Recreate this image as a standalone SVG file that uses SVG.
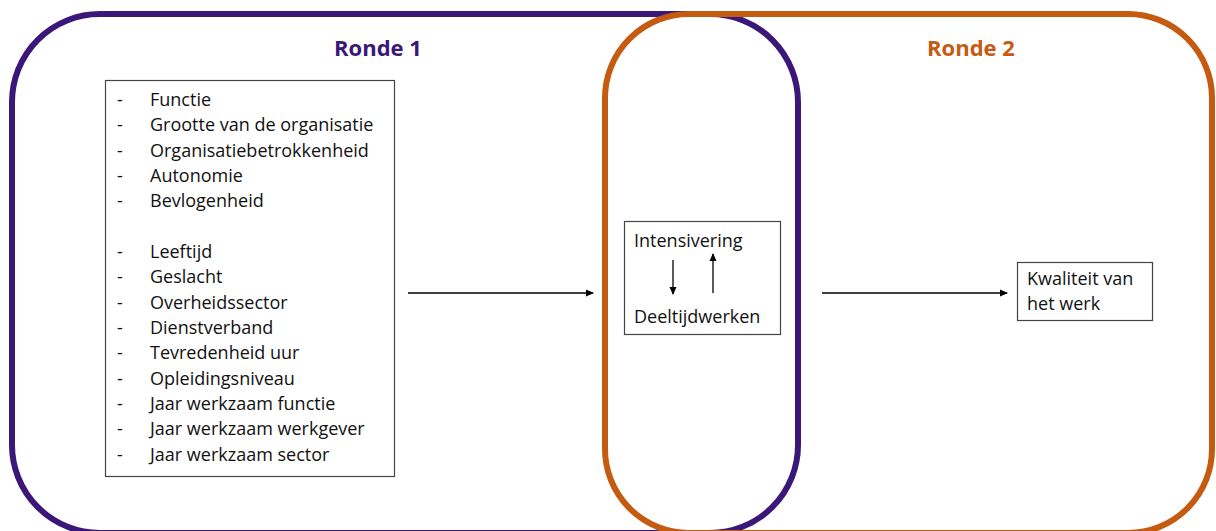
<svg xmlns="http://www.w3.org/2000/svg" width="1216" height="531" viewBox="0 0 1216 531">
<defs>
<marker id="ah" markerWidth="8" markerHeight="8" refX="7" refY="4" orient="auto" markerUnits="userSpaceOnUse">
<path d="M0,0.5 L8,4 L0,7.5 Z" fill="#000"/>
</marker>
<style>
.t{font-family:"Open Sans","Liberation Sans",Arial,sans-serif;font-size:18px;fill:#111}
.h{font-family:"Open Sans","Liberation Sans",Arial,sans-serif;font-size:22px;font-weight:bold}
.box{fill:#fff;stroke:#444;stroke-width:1.2}
.ln{stroke:#000;stroke-width:1.3;fill:none}
</style>
</defs>
<rect width="1216" height="531" fill="#fff"/>
<g id="ronde1">
<rect x="12" y="14" width="786" height="519" rx="88" ry="88" fill="none" stroke="#3a1778" stroke-width="6"/>
<text class="h" x="378" y="56" text-anchor="middle" fill="#3a1778">Ronde 1</text>
</g>
<g id="ronde2">
<rect x="605" y="14" width="607" height="519" rx="84" ry="84" fill="none" stroke="#c55a11" stroke-width="6"/>
<text class="h" x="971" y="56" text-anchor="middle" fill="#c55a11">Ronde 2</text>
</g>
<g id="variabelen">
<rect class="box" x="105.5" y="80.5" width="289" height="396"/>
<g class="t">
<text x="117" y="106">-</text><text x="150" y="106">Functie</text>
<text x="117" y="131">-</text><text x="150" y="131">Grootte van de organisatie</text>
<text x="117" y="157">-</text><text x="150" y="157">Organisatiebetrokkenheid</text>
<text x="117" y="182">-</text><text x="150" y="182">Autonomie</text>
<text x="117" y="207">-</text><text x="150" y="207">Bevlogenheid</text>
<text x="117" y="258">-</text><text x="150" y="258">Leeftijd</text>
<text x="117" y="283">-</text><text x="150" y="283">Geslacht</text>
<text x="117" y="309">-</text><text x="150" y="309">Overheidssector</text>
<text x="117" y="334">-</text><text x="150" y="334">Dienstverband</text>
<text x="117" y="359">-</text><text x="150" y="359">Tevredenheid uur</text>
<text x="117" y="385">-</text><text x="150" y="385">Opleidingsniveau</text>
<text x="117" y="410">-</text><text x="150" y="410">Jaar werkzaam functie</text>
<text x="117" y="435">-</text><text x="150" y="435">Jaar werkzaam werkgever</text>
<text x="117" y="461">-</text><text x="150" y="461">Jaar werkzaam sector</text>
</g>
</g>
<g id="midden">
<rect class="box" x="624.5" y="221.5" width="156" height="113"/>
<text class="t" x="634" y="247">Intensivering</text>
<text class="t" x="634" y="323">Deeltijdwerken</text>
</g>
<g id="kwaliteit">
<rect class="box" x="1017.5" y="262.5" width="135" height="58"/>
<text class="t" x="1027" y="285">Kwaliteit van</text>
<text class="t" x="1027" y="310">het werk</text>
</g>
<g id="connectors">
<line class="ln" x1="408" y1="293" x2="593" y2="293" marker-end="url(#ah)"/>
<line class="ln" x1="822" y1="293" x2="1007" y2="293" marker-end="url(#ah)"/>
<line class="ln" x1="673" y1="260" x2="673" y2="294" marker-end="url(#ah)"/>
<line class="ln" x1="713" y1="293" x2="713" y2="254" marker-end="url(#ah)"/>
</g>
</svg>
